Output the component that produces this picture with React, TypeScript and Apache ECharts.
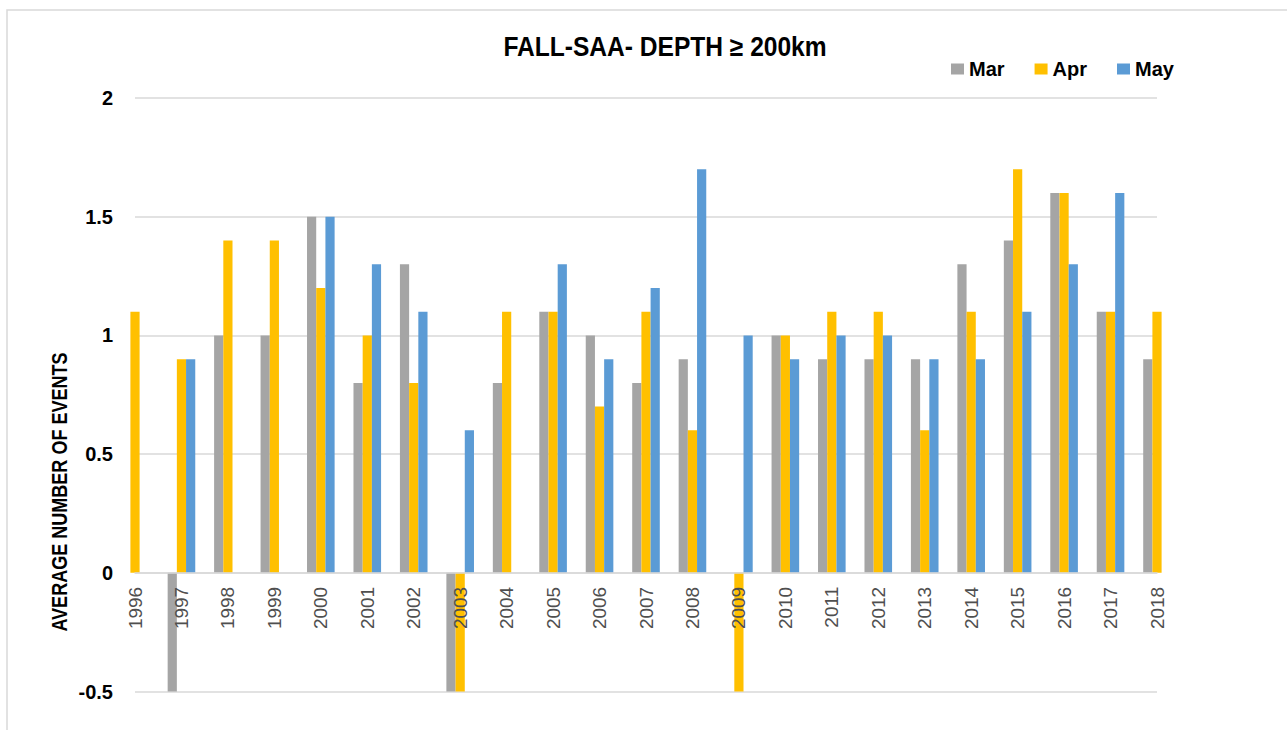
import React, { useEffect, useRef } from "react";
import * as echarts from "echarts";

const years = ["1996","1997","1998","1999","2000","2001","2002","2003","2004","2005","2006","2007","2008","2009","2010","2011","2012","2013","2014","2015","2016","2017","2018"];
const mar = [null, -0.5, 1.0, 1.0, 1.5, 0.8, 1.3, -0.5, 0.8, 1.1, 1.0, 0.8, 0.9, 0, 1.0, 0.9, 0.9, 0.9, 1.3, 1.4, 1.6, 1.1, 0.9];
const apr = [1.1, 0.9, 1.4, 1.4, 1.2, 1.0, 0.8, -0.5, 1.1, 1.1, 0.7, 1.1, 0.6, -0.5, 1.0, 1.1, 1.1, 0.6, 1.1, 1.7, 1.6, 1.1, 1.1];
const may = [0, 0.9, 0, 0, 1.5, 1.3, 1.1, 0.6, 0, 1.3, 0.9, 1.2, 1.7, 1.0, 0.9, 1.0, 1.0, 0.9, 0.9, 1.1, 1.3, 1.6, null];
const yTicks = { min: -0.5, max: 2, interval: 0.5 };
const titleText = "FALL-SAA- DEPTH \u2265 200km";
const yTitle = "AVERAGE NUMBER OF EVENTS";

const SANS = '"Liberation Sans", Arial, sans-serif';

export default function App() {
  const ref = useRef<HTMLDivElement>(null);
  useEffect(() => {
    if (!ref.current) return;
    const chart = echarts.init(ref.current, null, { renderer: "svg" });
    const top = 98;
    const bottom = 38.5;
    const plotH = 730 - top - bottom;
    const zeroOffset = -plotH * ((0 - yTicks.min) / (yTicks.max - yTicks.min));
    const bar = (name: string, data: (number | null)[], color: string) => ({
      name,
      type: "bar",
      data,
      barWidth: 9.2,
      barGap: "0%",
      clip: true,
      z: 2,
      itemStyle: { color },
    });
    chart.setOption({
      animation: false,
      backgroundColor: "#ffffff",
      grid: { left: 135, right: 130, top, bottom, containLabel: false, outerBoundsMode: "none" },
      legend: {
        left: 946,
        top: 54,
        itemWidth: 13,
        itemHeight: 11,
        itemGap: 30,
        icon: "rect",
        textStyle: { fontFamily: SANS, fontWeight: "bold", fontSize: 20, color: "#000" },
        data: ["Mar", "Apr", "May"],
      },
      xAxis: {
        type: "category",
        data: years,
        boundaryGap: false,
        offset: zeroOffset,
        z: 5,
        axisLine: { onZero: false, lineStyle: { color: "#d9d9d9", width: 1.5 } },
        axisTick: { show: false },
        axisLabel: {
          interval: 0,
          rotate: 90,
          margin: 14,
          fontFamily: SANS,
          fontSize: 19,
          color: "#4f4f4f",
        },
        splitLine: { show: false },
      },
      yAxis: {
        type: "value",
        min: yTicks.min,
        max: yTicks.max,
        interval: yTicks.interval,
        axisLine: { show: false },
        axisTick: { show: false },
        axisLabel: {
          margin: 22,
          fontFamily: SANS,
          fontWeight: "bold",
          fontSize: 20,
          color: "#000",
        },
        splitLine: { lineStyle: { color: "#d9d9d9", width: 1.5 } },
      },
      graphic: [
        {
          type: "rect",
          silent: true,
          shape: { x: 7, y: 10, width: 1400, height: 900 },
          style: { fill: "none", stroke: "#d9d9d9", lineWidth: 1.5 },
        },
        {
          type: "text",
          x: 665,
          y: 47,
          scaleX: 0.91,
          style: {
            text: titleText,
            fontFamily: SANS,
            fontWeight: "bold",
            fontSize: 27,
            fill: "#000",
            textAlign: "center",
            textVerticalAlign: "middle",
          },
        },
        {
          type: "text",
          x: 59,
          y: 492,
          rotation: Math.PI / 2,
          scaleX: 0.82,
          style: {
            text: yTitle,
            fontFamily: SANS,
            fontWeight: "bold",
            fontSize: 22,
            fill: "#000",
            textAlign: "center",
            textVerticalAlign: "middle",
          },
        },
      ],
      series: [bar("Mar", mar, "#A5A5A5"), bar("Apr", apr, "#FFC000"), bar("May", may, "#5B9BD5")],
    });
    return () => chart.dispose();
  }, []);
  return <div ref={ref} style={{ position: "absolute", left: 0, top: 0, width: 1287, height: 730 }} />;
}
